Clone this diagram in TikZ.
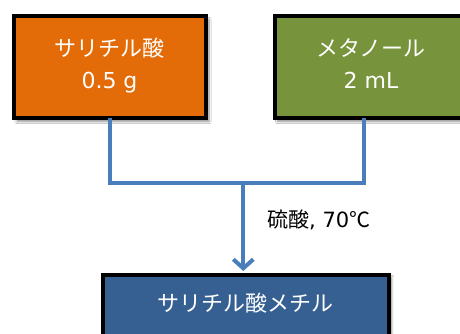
\documentclass[tikz,border=0pt]{standalone}
\usepackage{fontspec}
\setmainfont{DejaVu Sans}
\newfontfamily\cjk{Noto Sans CJK JP}
\usetikzlibrary{shadows.blur,arrows.meta}
\definecolor{boxorange}{HTML}{E36C09}
\definecolor{boxgreen}{HTML}{77933C}
\definecolor{boxblue}{HTML}{366092}
\definecolor{linkblue}{HTML}{4A7EBB}
\tikzset{
  box/.style={draw=black, line width=4pt, blur shadow={shadow xshift=3pt, shadow yshift=-3pt, shadow blur steps=6, shadow opacity=45}},
  boxtext/.style={text=white, font=\fontsize{22}{32}\selectfont, align=center},
  link/.style={draw=linkblue, line width=4pt},
}
\begin{document}
\begin{tikzpicture}[x=1pt,y=-1pt]
\clip (0,0) rectangle (460,334);
\fill[white] (0,0) rectangle (460,334);
% boxes
\path[box, fill=boxorange] (14,16.5) rectangle (206,118.5);
\path[box, fill=boxgreen] (274.7,16.5) rectangle (468,118.5);
\path[box, fill=boxblue] (103,274.5) rectangle (388.7,360);
\node[boxtext] (sal) at (109.5,66) {{\cjk サリチル酸}\\0.5 g};
\node[boxtext] (met) at (371,64) {{\cjk メタノール}\\2 mL};
\node[boxtext] (ester) at (245,303) {\cjk サリチル酸メチル};
\coordinate (lt) at (109.7,118.5);
\coordinate (rt) at (364.3,118.5);
\coordinate (jl) at (109.7,183.3);
\coordinate (jr) at (364.3,183.3);
\coordinate (jm) at (243.3,183.3);
\coordinate (tip) at (243.3,271);
\draw[link] (lt) -- (jl) -- (jr) -- (rt);
\draw[link, -{Straight Barb[length=9pt,width=20pt,line width=4pt]}] (jm) -- (tip);
\node[anchor=west, font=\fontsize{21}{24}\selectfont, inner sep=0pt] (cond) at (267,220) {{\cjk 硫酸}, 70{\cjk ℃}};
\end{tikzpicture}
\end{document}
